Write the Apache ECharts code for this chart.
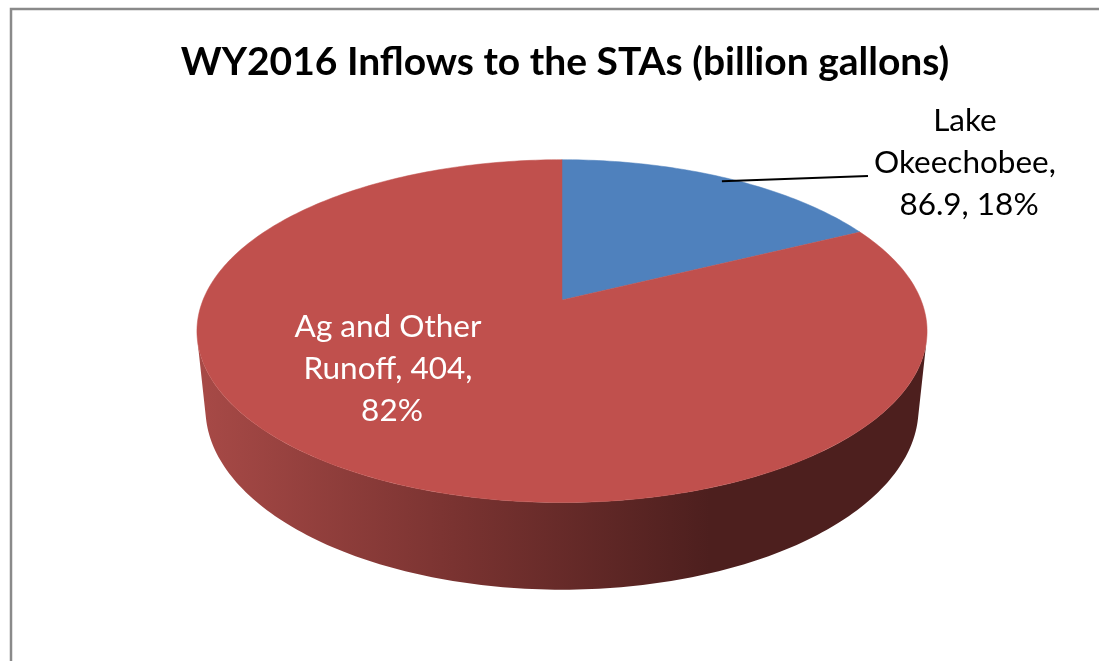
<!DOCTYPE html>
<html>
<head>
<meta charset="utf-8">
<script src="https://cdn.jsdelivr.net/npm/echarts@6/dist/echarts.min.js"></script>
<style>
  html, body { margin: 0; padding: 0; background: #fff; }
  #chart { width: 1099px; height: 661px; }
</style>
</head>
<body>
<div id="chart"></div>
<script>
// WY2016 inflows to the STAs, billion gallons
const categories = ['Lake Okeechobee', 'Ag and Other Runoff'];
const values = [86.9, 404];
const sliceColors = ['#4F81BD', '#C0504D'];
const titleText = 'WY2016 Inflows to the STAs (billion gallons)';

// 3-D pie geometry (perspective-projected disc)
const view = {
  cx: 562, cy: 300,      // screen position of the disc centre (top face)
  scale: 359,            // projected radius at mid-depth
  persp: 0.2047,         // radius / camera distance
  tilt: 27.5,            // camera elevation, degrees
  depth: 0.245           // thickness / radius
};
const SIN = Math.sin(view.tilt * Math.PI / 180);
const COS = Math.cos(view.tilt * Math.PI / 180);

// theta: degrees clockwise from the far side; r: radius fraction; h: height fraction (0 = top)
function project(theta, r, h) {
  const t = theta * Math.PI / 180;
  const x = r * Math.sin(t), z = -r * Math.cos(t);
  const d = 1 - view.persp * (z * COS + h * SIN);
  return [view.cx + view.scale * x / d, view.cy + view.scale * (z * SIN - h * COS) / d];
}

const total = values.reduce((a, b) => a + b, 0);
const starts = [];
values.reduce((acc, v) => { starts.push(acc); return acc + v; }, 0);

// visible arc of the outer wall
const wallFrom = Math.acos(-view.persp / COS) * 180 / Math.PI;
const wallTo = 360 - wallFrom;

const sideGradient = new echarts.graphic.LinearGradient(195, 0, 710, 0, [
  { offset: 0, color: '#A84A47' },
  { offset: 0.5, color: '#7A3331' },
  { offset: 1, color: '#4D1F1E' }
], true);

// label placement: outside with leader line, or inside the slice
const labelLayout = [
  { pos: [969, 163], color: '#000', width: 205, leaderEnd: [868, 176] },
  { pos: [392, 369], color: '#fff', width: 205 }
];

function renderSlice(params, api) {
  const i = params.dataIndex;
  const v = api.value(0);
  const a0 = api.value(1) / total * 360;
  const a1 = a0 + v / total * 360;
  const children = [];

  // outer wall (only the camera-facing part)
  const lo = Math.max(a0, wallFrom), hi = Math.min(a1, wallTo);
  if (hi > lo) {
    const pts = [];
    const n = Math.max(2, Math.ceil(hi - lo));
    for (let k = 0; k <= n; k++) pts.push(project(lo + (hi - lo) * k / n, 1, 0));
    for (let k = n; k >= 0; k--) pts.push(project(lo + (hi - lo) * k / n, 1, -view.depth));
    children.push({ type: 'polygon', shape: { points: pts }, style: { fill: sideGradient, stroke: null } });
  }

  // top face
  const top = [project(0, 0, 0)];
  const m = Math.max(2, Math.ceil(a1 - a0));
  for (let k = 0; k <= m; k++) top.push(project(a0 + (a1 - a0) * k / m, 1, 0));
  children.push({ type: 'polygon', shape: { points: top }, style: { fill: sliceColors[i], stroke: sliceColors[i], lineWidth: 0.5 } });

  // data label
  const lay = labelLayout[i];
  const pct = Math.round(v / total * 100);
  const text = categories[i] + ', ' + v + ', ' + pct + '%';
  if (lay.leaderEnd) {
    const s = project((a0 + a1) / 2, 0.97, 0);
    children.push({ type: 'line', shape: { x1: s[0], y1: s[1], x2: lay.leaderEnd[0], y2: lay.leaderEnd[1] },
      style: { stroke: '#000', lineWidth: 2 } });
  }
  children.push({
    type: 'text',
    style: {
      x: lay.pos[0], y: lay.pos[1], text: text,
      width: lay.width, overflow: 'break',
      align: 'center', verticalAlign: 'middle',
      fill: lay.color, fontFamily: 'Lato', fontSize: 31.5, lineHeight: 42
    }
  });
  return { type: 'group', children: children };
}

const chart = echarts.init(document.getElementById('chart'), null, { renderer: 'canvas' });
chart.setOption({
  animation: false,
  backgroundColor: '#fff',
  title: {
    text: titleText, left: 560, top: 38, textAlign: 'center',
    textStyle: { fontFamily: 'Lato', fontWeight: 'bold', fontSize: 39, color: '#000' }
  },
  graphic: [{
    type: 'rect', shape: { x: 11, y: 9, width: 1200, height: 800 },
    style: { fill: null, stroke: '#8A8A8A', lineWidth: 2.5 }, silent: true
  }],
  series: [{
    type: 'custom',
    coordinateSystem: 'none',
    renderItem: renderSlice,
    data: values.map((v, i) => ({ name: categories[i], value: [v, starts[i]] }))
  }]
});
</script>
</body>
</html>
